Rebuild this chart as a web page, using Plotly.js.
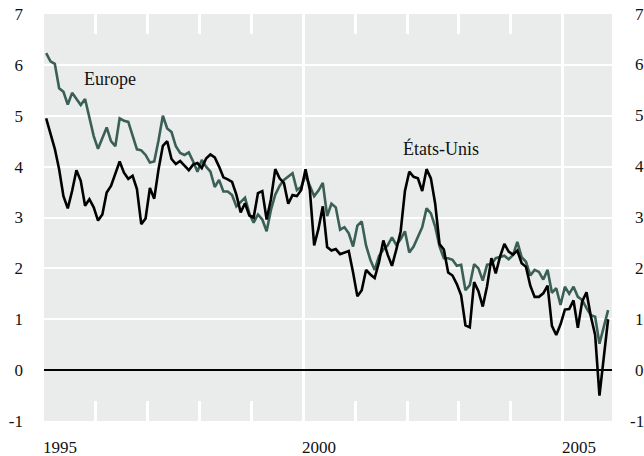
<!DOCTYPE html>
<html>
<head>
<meta charset="utf-8">
<script src="https://cdn.plot.ly/plotly-3.0.1.min.js"></script>
<style>
  html, body { margin: 0; padding: 0; background: #ffffff; }
  #chart { width: 644px; height: 456px; }
</style>
</head>
<body>
<div id="chart"></div>
<script>
// Monthly observations, January 1995 onward
const startYear = 1995;

const europe = [
  6.23, 6.07, 6.02, 5.54, 5.47, 5.22, 5.45, 5.34, 5.21, 5.33, 4.95, 4.60,
  4.35, 4.55, 4.77, 4.50, 4.40, 4.95, 4.90, 4.88, 4.60, 4.34, 4.32, 4.23,
  4.08, 4.10, 4.52, 5.00, 4.75, 4.68, 4.40, 4.27, 4.23, 4.28, 4.10, 3.90,
  4.13, 4.00, 3.90, 3.60, 3.74, 3.51, 3.51, 3.44, 3.22, 3.31, 3.39, 3.08,
  2.90, 3.06, 2.96, 2.73, 3.15, 3.45, 3.62, 3.74, 3.80, 3.87, 3.54, 3.60,
  3.83, 3.64, 3.42, 3.53, 3.68, 3.03, 3.27, 3.20, 2.76, 2.81, 2.69, 2.43,
  2.84, 2.92, 2.45, 2.17, 1.97, 2.24, 2.37, 2.45, 2.61, 2.46, 2.57, 2.73,
  2.31, 2.43, 2.63, 2.81, 3.18, 3.08, 2.82, 2.43, 2.20, 2.20, 2.17, 2.05,
  2.07, 1.57, 1.67, 2.08, 2.00, 1.76, 2.07, 2.08, 2.20, 2.22, 2.25, 2.18,
  2.26, 2.52, 2.22, 2.13, 1.86, 1.97, 1.93, 1.78, 1.97, 1.52, 1.61, 1.28,
  1.64, 1.50, 1.64, 1.44, 1.38, 1.22, 1.08, 1.05, 0.52, 0.85, 1.18
];

const etatsUnis = [
  4.95, 4.65, 4.35, 3.95, 3.42, 3.18, 3.52, 3.93, 3.72, 3.23, 3.36, 3.20,
  2.94, 3.06, 3.49, 3.62, 3.85, 4.10, 3.88, 3.76, 3.82, 3.56, 2.87, 2.98,
  3.58, 3.37, 3.95, 4.41, 4.50, 4.15, 4.05, 4.11, 4.02, 3.93, 4.04, 4.07,
  3.97, 4.16, 4.24, 4.18, 4.00, 3.79, 3.75, 3.70, 3.45, 3.10, 3.28, 3.04,
  3.00, 3.48, 3.52, 2.96, 3.36, 3.95, 3.77, 3.68, 3.27, 3.44, 3.42, 3.54,
  3.95, 3.54, 2.45, 2.78, 3.22, 2.42, 2.35, 2.38, 2.28, 2.31, 2.34, 1.92,
  1.45, 1.57, 1.97, 1.88, 1.81, 2.12, 2.55, 2.27, 2.05, 2.37, 2.72, 3.52,
  3.90, 3.80, 3.77, 3.52, 3.95, 3.77, 3.27, 2.48, 2.37, 1.92, 1.86, 1.69,
  1.47, 0.88, 0.84, 1.73, 1.55, 1.25, 1.65, 2.20, 1.90, 2.23, 2.48, 2.33,
  2.27, 2.35, 2.10, 2.03, 1.66, 1.44, 1.44, 1.51, 1.66, 0.87, 0.69, 0.90,
  1.19, 1.20, 1.37, 0.83, 1.35, 1.53, 1.06, 0.69, -0.50, 0.25, 1.00
];

const yTickVals = [-1, 0, 1, 2, 3, 4, 5, 6, 7];
const yTickText = ['-1', '0', '1', '2', '3', '4', '5', '6', '7'];
const xTickVals = [1995, 2000, 2005];
const xTickText = ['1995', '2000', '2005'];
const seriesNames = ['Europe', 'États-Unis'];

// monthly positions (mid-month) on a year axis
const months = europe.map((_, i) => startYear + (i + 0.5) / 12);

const FONT = 'Liberation Serif, Times New Roman, serif';

const traces = [
  {
    x: months, y: europe, type: 'scatter', mode: 'lines', name: seriesNames[0],
    line: { color: '#3a5f56', width: 2.6 }, hoverinfo: 'skip'
  },
  {
    x: months, y: etatsUnis, type: 'scatter', mode: 'lines', name: seriesNames[1],
    line: { color: '#000000', width: 2.6 }, hoverinfo: 'skip'
  }
];

const annotations = [];
// right-hand copy of the value scale (right aligned)
yTickVals.forEach((v, k) => {
  annotations.push({
    xref: 'paper', yref: 'y', x: 1.06, y: v, xanchor: 'right', yanchor: 'middle',
    text: yTickText[k], showarrow: false,
    font: { family: FONT, size: 17, color: '#111111' }
  });
});
// year labels, starting at their tick
xTickVals.forEach((v, k) => {
  annotations.push({
    xref: 'x', yref: 'paper', x: v, y: -0.064, xanchor: 'left', yanchor: 'middle',
    xshift: -3,
    text: xTickText[k], showarrow: false,
    font: { family: FONT, size: 17, color: '#111111' }
  });
});
annotations.push({
  xref: 'x', yref: 'y', x: 1996.27, y: 5.72, xanchor: 'center', yanchor: 'middle',
  text: seriesNames[0], showarrow: false,
  font: { family: FONT, size: 18, color: '#111111' }
});
annotations.push({
  xref: 'x', yref: 'y', x: 2002.66, y: 4.36, xanchor: 'center', yanchor: 'middle',
  text: seriesNames[1], showarrow: false,
  font: { family: FONT, size: 18, color: '#111111' }
});

const layout = {
  width: 644, height: 456,
  margin: { l: 44, r: 32, t: 14, b: 35, pad: 0 },
  paper_bgcolor: '#ffffff',
  plot_bgcolor: '#e9ecea',
  showlegend: false,
  font: { family: FONT, size: 17, color: '#111111' },
  xaxis: {
    range: [1995, 2005.95],
    tickmode: 'array', tickvals: xTickVals, ticktext: xTickText,
    showticklabels: false,
    ticks: 'inside', ticklen: 20, tickwidth: 3, tickcolor: '#ffffff',
    mirror: 'ticks', showline: false,
    showgrid: true, gridcolor: '#ffffff', gridwidth: 3,
    zeroline: false,
    minor: { tickmode: 'linear', tick0: 1995, dtick: 1, ticks: 'inside', ticklen: 20, tickwidth: 3, tickcolor: '#ffffff', showgrid: false },
    fixedrange: true
  },
  yaxis: {
    range: [-1, 7],
    tickmode: 'array', tickvals: yTickVals, ticktext: yTickText,
    ticks: '', showline: false,
    showgrid: true, gridcolor: '#ffffff', gridwidth: 2,
    zeroline: true, zerolinecolor: '#000000', zerolinewidth: 1.5,
    ticklabelstandoff: 20,
    tickfont: { family: FONT, size: 17, color: '#111111' },
    fixedrange: true
  },
  annotations: annotations
};

Plotly.newPlot('chart', traces, layout, { staticPlot: true, displayModeBar: false });
</script>
</body>
</html>
